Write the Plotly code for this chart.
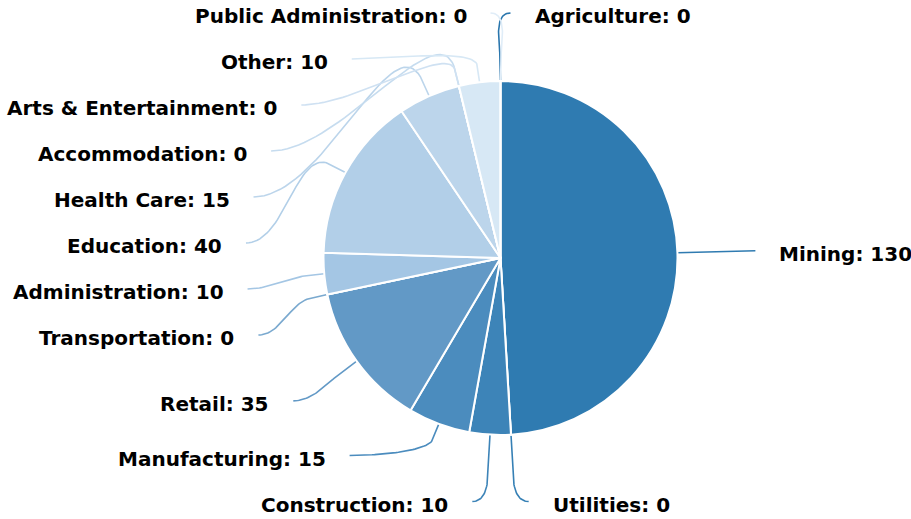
import math
import plotly.graph_objects as go

# ---- data ----
categories = ["Agriculture", "Mining", "Utilities", "Construction", "Manufacturing",
              "Retail", "Transportation", "Administration", "Education", "Health Care",
              "Accommodation", "Arts & Entertainment", "Other", "Public Administration"]
values = [0, 130, 0, 10, 15, 35, 0, 10, 40, 15, 0, 0, 10, 0]

# ---- styles ----
colors = ["#2a76ad", "#2f7bb1", "#3680b5", "#3d84b8", "#4b8cbe", "#6299c6", "#7aa9cf",
          "#a4c6e4", "#b2cfe8", "#bcd5eb", "#c6dcef", "#cfe1f2", "#d7e8f5", "#e0edf8"]

W, H = 911, 519
CX, CY, R = 500.5, 258, 177
ELBOW = 16
LA, LB = 255, 245
SP = 46
YMIN, YMAX = 12.5, 501.5
GAP = 22
TEXT_DY = 3
FONT = dict(family="DejaVu Sans", size=20, color="#000")

total = sum(values)
items = []
cum = 0
for i, (c, v) in enumerate(zip(categories, values)):
    a0 = cum / total * 2 * math.pi
    cum += v
    a1 = cum / total * 2 * math.pi
    m = (a0 + a1) / 2
    side = 1 if m < math.pi - 1e-9 else -1
    items.append(dict(i=i, label=c, value=v, mid=m, side=side,
                      y=CY - math.cos(m) * LB))


def relax(group):
    n = len(group)
    for k in range(n):
        lo = YMIN if k == 0 else group[k - 1]["y"] + SP
        group[k]["y"] = max(group[k]["y"], lo)
    for k in range(n - 1, -1, -1):
        hi = YMAX if k == n - 1 else group[k + 1]["y"] - SP
        group[k]["y"] = min(group[k]["y"], hi)


right = sorted([d for d in items if d["side"] == 1], key=lambda d: (d["mid"], d["i"]))
left = sorted([d for d in items if d["side"] == -1], key=lambda d: (-d["mid"], -d["i"]))
relax(right)
relax(left)

fig = go.Figure()
fig.add_trace(go.Pie(
    labels=categories, values=values, sort=False, direction="clockwise", rotation=0,
    marker=dict(colors=colors, line=dict(color="white", width=2)),
    textinfo="none", hoverinfo="label+value", showlegend=False,
    domain=dict(x=[(CX - R) / W, (CX + R) / W], y=[(H - CY - R) / H, (H - CY + R) / H]),
))

annotations = []
for d in items:
    m, s, ya = d["mid"], d["side"], d["y"]
    ux, uy = math.sin(m), -math.cos(m)
    sx, sy = CX + R * ux, CY + R * uy
    ex_, ey_ = CX + (R + ELBOW) * ux, CY + (R + ELBOW) * uy
    t = 1 - ((ya - CY) / LB) ** 2
    xoff = max(10, LA * math.sqrt(max(0.0, t)))
    tx, ty = CX + s * xoff, ya
    dist = math.hypot(tx - ex_, ty - ey_)
    k1 = min(0.35 * dist, max(0.8 * abs(ty - ey_), 0.15 * dist))
    k2 = 0.35 * dist
    c1 = (ex_ + ux * k1, ey_ + uy * k1)
    c2 = (tx - s * k2, ty)
    xs, ys = [sx], [sy]
    for j in range(0, 41):
        u = j / 40
        b0, b1, b2, b3 = (1 - u) ** 3, 3 * (1 - u) ** 2 * u, 3 * (1 - u) * u ** 2, u ** 3
        xs.append(b0 * ex_ + b1 * c1[0] + b2 * c2[0] + b3 * tx)
        ys.append(b0 * ey_ + b1 * c1[1] + b2 * c2[1] + b3 * ty)
    fig.add_trace(go.Scatter(x=xs, y=ys, mode="lines", hoverinfo="skip", showlegend=False,
                             line=dict(color=colors[d["i"]], width=1.6)))
    annotations.append(dict(
        x=tx + s * GAP, y=ty + TEXT_DY, xref="x", yref="y",
        xanchor="left" if s == 1 else "right", yanchor="middle",
        text=f"<b>{d['label']}: {d['value']}</b>", showarrow=False, font=FONT))

fig.update_layout(
    width=W, height=H, margin=dict(l=0, r=0, t=0, b=0),
    paper_bgcolor="white", plot_bgcolor="rgba(0,0,0,0)",
    xaxis=dict(range=[0, W], visible=False, domain=[0, 1], fixedrange=True),
    yaxis=dict(range=[H, 0], visible=False, domain=[0, 1], fixedrange=True),
    annotations=annotations, showlegend=False,
)

fig.write_html("out.html", config={"displayModeBar": False},
               post_script="document.body.style.margin='0';")
